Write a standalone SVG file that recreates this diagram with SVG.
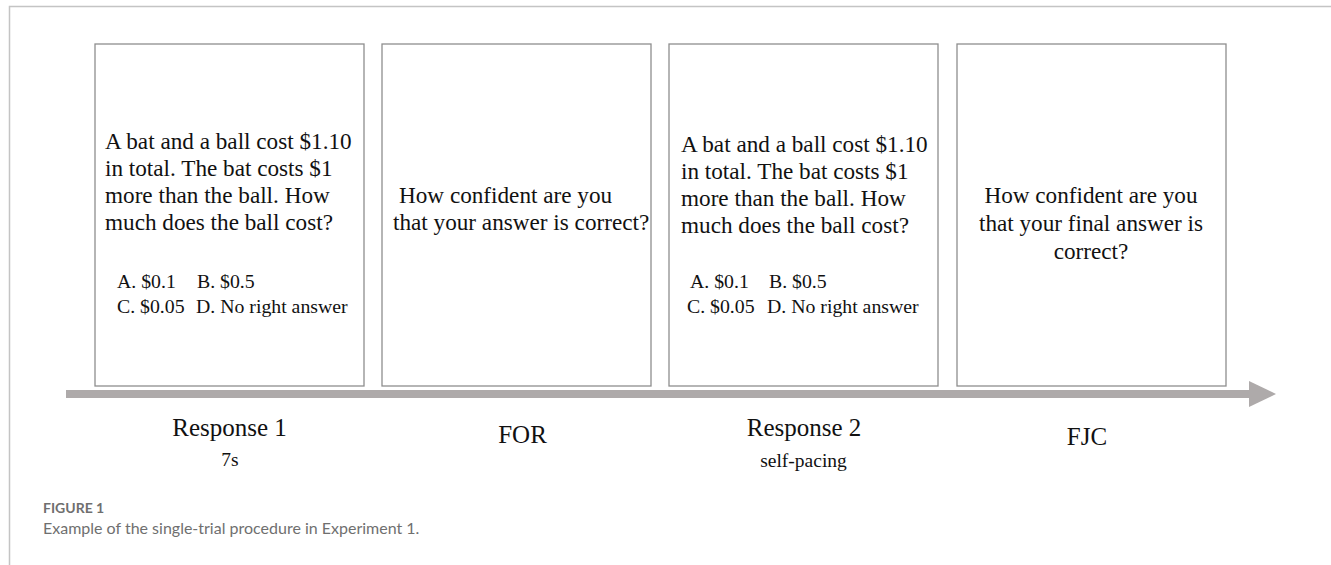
<svg xmlns="http://www.w3.org/2000/svg" width="1331" height="565" viewBox="0 0 1331 565">
<style>
.frame{fill:none;stroke:#c4c4c4;stroke-width:1.5}
.box{fill:#fff;stroke:#8e8e8e;stroke-width:1.3}
.t{font-family:"Liberation Serif","Times New Roman",serif;fill:#111}
.q{font-size:23.2px}
.o{font-size:19.8px}
.lab{font-size:25px;text-anchor:middle}
.sub{font-size:19.5px;text-anchor:middle}
.cap{font-family:Lato,"Open Sans",sans-serif;fill:#6f6f6f}
</style>
<path class="frame" d="M9.5 565 V6.5 H1331"/>
<g id="connectors">
<rect x="66" y="390" width="1184" height="8" fill="#aeaaaa"/>
<polygon points="1249,381 1276,394 1249,407" fill="#aeaaaa"/>
</g>
<g id="box-response1">
<rect class="box" x="95" y="44" width="269" height="342"/>
<text class="t q" x="105" y="149">A bat and a ball cost $1.10</text>
<text class="t q" x="105" y="176">in total. The bat costs $1</text>
<text class="t q" x="105" y="203">more than the ball. How</text>
<text class="t q" x="105" y="230">much does the ball cost?</text>
<text class="t o" x="117" y="288">A. $0.1<tspan x="197">B. $0.5</tspan></text>
<text class="t o" x="117" y="313">C. $0.05<tspan x="196">D. No right answer</tspan></text>
</g>
<g id="box-for">
<rect class="box" x="382" y="44" width="269" height="342"/>
<text class="t q" x="399" y="203">How confident are you</text>
<text class="t q" x="393" y="230">that your answer is correct?</text>
</g>
<g id="box-response2">
<rect class="box" x="669" y="44" width="269" height="342"/>
<text class="t q" x="681" y="152">A bat and a ball cost $1.10</text>
<text class="t q" x="681" y="179">in total. The bat costs $1</text>
<text class="t q" x="681" y="206">more than the ball. How</text>
<text class="t q" x="681" y="233">much does the ball cost?</text>
<text class="t o" x="690" y="288">A. $0.1<tspan x="769">B. $0.5</tspan></text>
<text class="t o" x="687" y="313">C. $0.05<tspan x="767">D. No right answer</tspan></text>
</g>
<g id="box-fjc">
<rect class="box" x="957" y="44" width="269" height="342"/>
<text class="t q" x="1091" y="203" text-anchor="middle">How confident are you</text>
<text class="t q" x="1091" y="231" text-anchor="middle">that your final answer is</text>
<text class="t q" x="1091" y="259" text-anchor="middle">correct?</text>
</g>
<g id="label-response1">
<text class="t lab" x="229.5" y="436">Response 1</text>
<text class="t sub" x="230" y="466">7s</text>
</g>
<g id="label-for">
<text class="t lab" x="522.5" y="443">FOR</text>
</g>
<g id="label-response2">
<text class="t lab" x="804" y="436">Response 2</text>
<text class="t sub" x="803.5" y="467">self-pacing</text>
</g>
<g id="label-fjc">
<text class="t lab" x="1087" y="445">FJC</text>
</g>
<g id="caption">
<text class="cap" x="43" y="513" font-size="14" font-weight="700" fill="#7a7a7a">FIGURE 1</text>
<text class="cap" x="43" y="534" font-size="16">Example of the single-trial procedure in Experiment 1.</text>
</g>
</svg>
